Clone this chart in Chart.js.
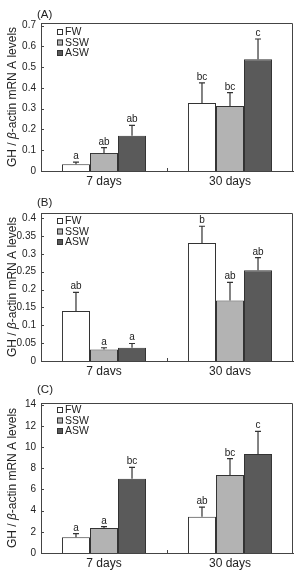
<!DOCTYPE html>
<html>
<head>
<meta charset="utf-8">
<script src="https://cdn.jsdelivr.net/npm/chart.js@4.4.1/dist/chart.umd.min.js"></script>
<style>
  body { margin: 0; background: #fff; }
  #wrap { position: relative; width: 299px; height: 570px; }
  .panel { position: absolute; left: 0; width: 299px; }
</style>
</head>
<body>
<div id="wrap">
  <div class="panel" style="top:0;height:188px"><canvas id="cA"></canvas></div>
  <div class="panel" style="top:188px;height:187px"><canvas id="cB"></canvas></div>
  <div class="panel" style="top:375px;height:195px"><canvas id="cC"></canvas></div>
</div>
<script>
// categories and series
const categories = ['7 days', '30 days'];
const seriesNames = ['FW', 'SSW', 'ASW'];
const seriesColors = ['#ffffff', '#b3b3b3', '#5a5a5a'];

// panel A
const aFW = [0.033, 0.328];
const aSSW = [0.087, 0.313];
const aASW = [0.17, 0.538];
const aErrFW = [0.043, 0.425];
const aErrSSW = [0.113, 0.378];
const aErrASW = [0.22, 0.636];
const aLetters = [['a', 'bc'], ['ab', 'bc'], ['ab', 'c']];
const aTicks = [0, 0.1, 0.2, 0.3, 0.4, 0.5, 0.6, 0.7];

// panel B
const bFW = [0.14, 0.33];
const bSSW = [0.032, 0.169];
const bASW = [0.037, 0.254];
const bErrFW = [0.192, 0.377];
const bErrSSW = [0.037, 0.22];
const bErrASW = [0.049, 0.289];
const bLetters = [['ab', 'b'], ['a', 'ab'], ['a', 'ab']];
const bTicks = [0, 0.05, 0.1, 0.15, 0.2, 0.25, 0.3, 0.35, 0.4];

// panel C
const cFW = [1.48, 3.43];
const cSSW = [2.36, 7.36];
const cASW = [7.02, 9.34];
const cErrFW = [1.82, 4.34];
const cErrSSW = [2.49, 8.9];
const cErrASW = [8.09, 11.48];
const cLetters = [['a', 'ab'], ['a', 'bc'], ['bc', 'c']];
const cTicks = [0, 2, 4, 6, 8, 10, 12, 14];

const ink = '#333';

const panelPlugin = {
  id: 'panelDecor',
  afterDatasetsDraw(chart) {
    const o = chart.options.plugins.panelDecor;
    const ctx = chart.ctx;
    const a = chart.chartArea;
    const y = chart.scales.y;
    ctx.save();
    // error bars + letters
    chart.data.datasets.forEach((ds, i) => {
      const meta = chart.getDatasetMeta(i);
      meta.data.forEach((bar, j) => {
        const yTop = y.getPixelForValue(o.errs[i][j]);
        ctx.strokeStyle = ink;
        ctx.lineWidth = 1.2;
        ctx.beginPath();
        ctx.moveTo(bar.x, bar.y);
        ctx.lineTo(bar.x, yTop);
        ctx.moveTo(bar.x - 3, yTop);
        ctx.lineTo(bar.x + 3, yTop);
        ctx.stroke();
        ctx.fillStyle = '#222';
        ctx.font = '10px "Liberation Sans", Arial, sans-serif';
        ctx.textAlign = 'center';
        ctx.textBaseline = 'alphabetic';
        ctx.fillText(o.letters[i][j], bar.x, yTop - 3);
      });
    });
    // frame top and right
    ctx.strokeStyle = '#444';
    ctx.lineWidth = 1;
    ctx.beginPath();
    ctx.moveTo(a.left, a.top + 0.5);
    ctx.lineTo(a.right - 0.5, a.top + 0.5);
    ctx.lineTo(a.right - 0.5, a.bottom);
    ctx.stroke();
    // inward y ticks
    ctx.beginPath();
    y.ticks.forEach(t => {
      const py = Math.round(y.getPixelForValue(t.value)) + 0.5;
      ctx.moveTo(a.left, py);
      ctx.lineTo(a.left + 3, py);
    });
    // middle x tick
    const mx = Math.round((a.left + a.right) / 2) + 0.5;
    ctx.moveTo(mx, a.bottom);
    ctx.lineTo(mx, a.bottom - 3);
    ctx.stroke();
    // legend
    ctx.font = '10.5px "Liberation Sans", Arial, sans-serif';
    ctx.textAlign = 'left';
    ctx.textBaseline = 'middle';
    seriesNames.forEach((n, k) => {
      const ly = a.top + o.legTop + k * 10.5;
      const lx = a.left + 16;
      ctx.fillStyle = seriesColors[k];
      ctx.fillRect(lx, ly - 3, 6, 6);
      ctx.strokeStyle = ink;
      ctx.strokeRect(lx + 0.5, ly - 2.5, 5, 5);
      ctx.fillStyle = '#222';
      ctx.fillText(n, lx + 8, ly + 0.5);
    });
    ctx.restore();
  },
  afterDraw(chart) {
    const o = chart.options.plugins.panelDecor;
    const ctx = chart.ctx;
    const a = chart.chartArea;
    ctx.save();
    ctx.fillStyle = '#222';
    ctx.font = '11.5px "Liberation Sans", Arial, sans-serif';
    ctx.textAlign = 'left';
    ctx.textBaseline = 'middle';
    ctx.fillText(o.label, 37, o.labelY);
    // y title with italic beta
    const parts = [['GH / ', ''], ['\u03b2', 'italic '], ['-actin mRN A levels', '']];
    let total = 0;
    parts.forEach(p => {
      ctx.font = p[1] + '12px "Liberation Sans", Arial, sans-serif';
      total += ctx.measureText(p[0]).width;
    });
    ctx.translate(13, (a.top + a.bottom) / 2);
    ctx.rotate(-Math.PI / 2);
    let x = -total / 2;
    parts.forEach(p => {
      ctx.font = p[1] + '12px "Liberation Sans", Arial, sans-serif';
      ctx.fillText(p[0], x, 0);
      x += ctx.measureText(p[0]).width;
    });
    ctx.restore();
  }
};

function makeChart(id, vals, errs, letters, ticks, yMax, top, xH, legTop, label) {
  new Chart(document.getElementById(id), {
    type: 'bar',
    data: {
      labels: categories,
      datasets: seriesNames.map((n, i) => ({
        label: n,
        data: vals[i],
        backgroundColor: seriesColors[i],
        borderColor: ink,
        borderWidth: 1
      }))
    },
    options: {
      responsive: true,
      maintainAspectRatio: false,
      animation: false,
      layout: { padding: { top: top, right: 6, left: 0, bottom: 0 } },
      categoryPercentage: 0.667,
      barPercentage: 1.0,
      plugins: {
        legend: { display: false },
        tooltip: { enabled: false },
        panelDecor: { errs: errs, letters: letters, legTop: legTop, label: label, labelY: 15 }
      },
      scales: {
        x: {
          grid: { display: false, drawTicks: false },
          border: { display: true, color: '#444', width: 1 },
          ticks: { color: '#222', padding: 3, font: { family: '"Liberation Sans", Arial, sans-serif', size: 12 } },
          afterFit: s => { s.height = xH; }
        },
        y: {
          min: 0,
          max: yMax,
          grid: { display: false, drawTicks: false },
          border: { display: true, color: '#444', width: 1 },
          afterBuildTicks: s => { s.ticks = ticks.map(v => ({ value: v })); },
          ticks: {
            color: '#222',
            padding: 5,
            font: { family: '"Liberation Sans Narrow", "Liberation Sans", Arial, sans-serif', size: 10 },
            callback: v => String(v)
          },
          afterFit: s => { s.width = 41; }
        }
      }
    },
    plugins: [panelPlugin]
  });
}

makeChart('cA', [aFW, aSSW, aASW], [aErrFW, aErrSSW, aErrASW], aLetters, aTicks, 0.713, 23, 17, 9, '(A)');
makeChart('cB', [bFW, bSSW, bASW], [bErrFW, bErrSSW, bErrASW], bLetters, bTicks, 0.414, 25, 14, 8, '(B)');
makeChart('cC', [cFW, cSSW, cASW], [cErrFW, cErrSSW, cErrASW], cLetters, cTicks, 14.16, 28, 17, 7, '(C)');
</script>
</body>
</html>
